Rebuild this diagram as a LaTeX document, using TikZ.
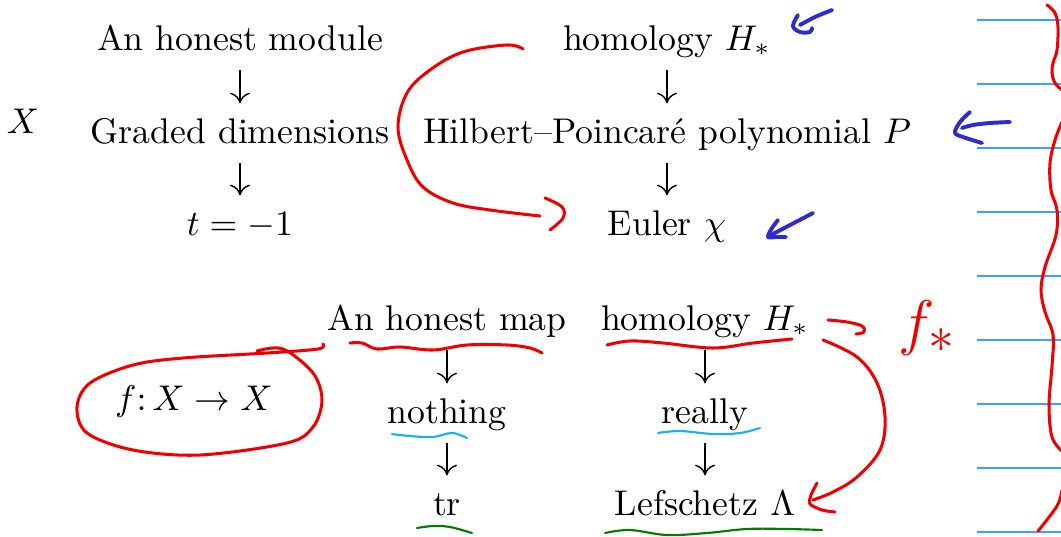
\documentclass[tikz,border=0pt]{standalone}
\usetikzlibrary{arrows.meta,calc}
\definecolor{penred}{RGB}{240,0,0}
\definecolor{penblue}{RGB}{45,45,200}
\definecolor{ruleblue}{RGB}{60,160,255}
\definecolor{pencyan}{RGB}{20,180,240}
\definecolor{pengreen}{RGB}{0,125,0}
\tikzset{
  lbl/.style={inner sep=0pt, text height=7pt, text depth=2pt, anchor=base},
  darr/.style={-{To[length=3pt,width=5.6pt]}, line width=0.4pt, shorten <=3.4pt, shorten >=3.9pt},
  redpen/.style={penred, line width=0.85pt, line cap=round, line join=round},
  bluepen/.style={penblue, line width=1.1pt, line cap=round, line join=round},
  cyanpen/.style={pencyan, line width=0.6pt, line cap=round},
  greenpen/.style={pengreen, line width=0.6pt, line cap=round},
  ruleline/.style={ruleblue, line width=0.45pt}
}
\begin{document}
\begin{tikzpicture}[x=0.28pt,y=-0.28pt]
\useasboundingbox (0,0) rectangle (1061,536);
% ruled lines
\foreach \yy in {20,84,148,212,276,340,404,468,532}
  \draw[ruleline] (977,\yy) -- (1061,\yy);
% top left column
\node[lbl] (mod) at (240,50) {An honest module};
\node[lbl] (gd) at (240,143) {Graded dimensions};
\node[lbl] (tm) at (240,235) {$t=-1$};
\node[lbl] (X) at (23,133) {$X$};
% top right column
\node[lbl] (hom) at (667,50) {homology $H_*$};
\node[lbl] (hp) at (667,143) {Hilbert--Poincar\'e polynomial $P$};
\node[lbl] (eu) at (667,235) {Euler $\chi$};
\draw[darr] (mod) -- (gd);
\draw[darr] (gd) -- (tm);
\draw[darr] (hom) -- (hp);
\draw[darr] (hp) -- (eu);
% bottom
\node[lbl] (map) at (447,330) {An honest map};
\node[lbl] (noth) at (447,423) {nothing};
\node[lbl] (tr) at (447,515) {tr};
\node[lbl] (homb) at (705,330) {homology $H_*$};
\node[lbl] (real) at (705,423) {really};
\node[lbl] (lef) at (705,515) {Lefschetz $\Lambda$};
\node[lbl] (fx) at (194,410) {$f\colon X\to X$};
\draw[darr] (map) -- (noth);
\draw[darr] (noth) -- (tr);
\draw[darr] (homb) -- (real);
\draw[darr] (real) -- (lef);
% handwritten f_*
\node[penred, anchor=base, inner sep=0pt] (fstar) at (927,343) {\fontsize{19}{19}\selectfont $f_{\ast}$};
% big red curve (top)
\draw[redpen] plot[smooth, tension=0.6] coordinates {(523,49) (507,45) (463,52) (430,70) (407,93) (398,127) (407,160) (423,187) (453,203) (490,210) (540,216)};
\draw[redpen] plot[smooth, tension=0.6] coordinates {(545,198) (562,207) (563,218) (550,230)};
% blue arrows
\draw[bluepen] plot[smooth, tension=0.5] coordinates {(832,10) (815,17) (800,25)};
\draw[bluepen] plot[smooth, tension=0.6] coordinates {(798,15) (793,26) (800,32) (810,32) (812,28)};
\draw[bluepen] plot[smooth, tension=0.5] coordinates {(1010,122) (990,123) (973,125) (962,128)};
\draw[bluepen] plot[smooth, tension=0.5] coordinates {(970,112) (960,122) (955,133) (966,138) (982,143)};
\draw[bluepen] (813,213) -- (771,235);
\draw[bluepen] plot[smooth, tension=0.5] coordinates {(778,220) (772,228) (768,237) (776,237) (786,237)};
% red brace at right
\begin{scope}
\clip (0,0) rectangle (1061,536);
\draw[redpen] plot[smooth, tension=0.6] coordinates {(1047,5) (1055,13) (1058,27) (1057,50) (1053,63) (1052,73) (1055,83) (1062,90)};
\draw[redpen] plot[smooth, tension=0.6] coordinates {(1062,122) (1055,140) (1050,163) (1051,190) (1057,210) (1056,235) (1045,267) (1041,290) (1045,312) (1053,335) (1052,366) (1049,405) (1052,437) (1062,451)};
\draw[redpen] plot[smooth, tension=0.6] coordinates {(1062,490) (1057,506) (1038,531)};
\end{scope}
% red underline of An honest map
\draw[redpen] plot[smooth, tension=0.6] coordinates {(350,343) (362,343) (377,349) (400,347) (433,350) (467,345) (507,345) (530,348) (542,353)};
% red loop around f
\draw[redpen] plot[smooth, tension=0.55] coordinates {(257,351) (283,349) (313,373) (322,400) (313,427) (287,443) (200,455) (133,450) (87,433) (77,407) (90,383) (133,365) (183,358) (267,353) (318,349) (323,344)};
% red underline homology (bottom)
\draw[redpen] plot[smooth, tension=0.6] coordinates {(607,345) (630,341) (663,343) (713,348) (753,343) (792,339)};
% red squiggle after H_*
\draw[redpen] plot[smooth, tension=0.6] coordinates {(828,320) (847,322) (862,326) (864,332) (856,334)};
% red curve H_* -> Lefschetz
\draw[redpen] plot[smooth, tension=0.6] coordinates {(823,340) (857,357) (877,383) (885,417) (880,450) (857,477) (833,492) (813,500)};
\draw[redpen] plot[smooth, tension=0.5] coordinates {(817,483) (811,495) (810,504) (822,510) (835,512)};
% cyan underlines
\draw[cyanpen] plot[smooth, tension=0.6] coordinates {(392,434) (410,436) (433,437) (452,433) (467,438)};
\draw[cyanpen] plot[smooth, tension=0.6] coordinates {(658,433) (680,431) (713,434) (740,433) (760,428)};
% green underlines
\draw[greenpen] plot[smooth, tension=0.6] coordinates {(417,528) (433,526) (450,527) (472,533)};
\draw[greenpen] plot[smooth, tension=0.6] coordinates {(605,533) (630,530) (667,535) (707,533) (747,529) (787,529) (822,530)};
\end{tikzpicture}
\end{document}
